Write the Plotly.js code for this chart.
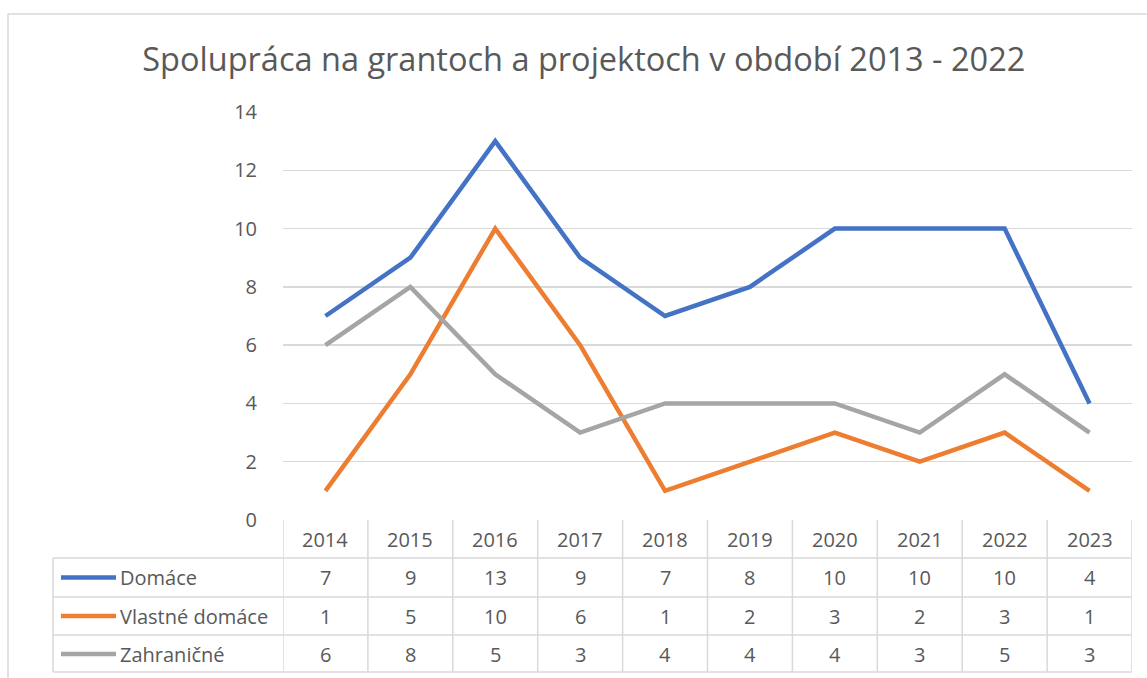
<!DOCTYPE html>
<html>
<head>
<meta charset="utf-8">
<script src="https://cdn.plot.ly/plotly-3.0.1.min.js"></script>
<style>html,body{margin:0;padding:0;background:#fff;}#chart{width:1147px;height:678px;}</style>
</head>
<body>
<div id="chart"></div>
<script>
const years = ['2014','2015','2016','2017','2018','2019','2020','2021','2022','2023'];
const seriesNames = ['Domáce','Vlastné domáce','Zahraničné'];
const domace = [7,9,13,9,7,8,10,10,10,4];
const vlastneDomace = [1,5,10,6,1,2,3,2,3,1];
const zahranicne = [6,8,5,3,4,4,4,3,5,3];
const colors = ['#4472C4','#ED7D31','#A5A5A5'];
const titleText = 'Spolupráca na grantoch a projektoch v období 2013 - 2022';

const W = 1147, H = 678;
const L = 283, R = 1132, T = 112, B = 520;
const px2x = p => (p - L) / (R - L);
const py2y = p => (B - p) / (B - T);
const gridC = '#D9D9D9';
const textC = '#595959';
const font = 'Open Sans, sans-serif';

const allSeries = [domace, vlastneDomace, zahranicne];
const traces = allSeries.map((vals, i) => ({
  type: 'scatter', mode: 'lines', x: years, y: vals, name: seriesNames[i],
  line: {color: colors[i], width: 4.5}, hoverinfo: 'x+y+name'
}));

const shapes = [];
const annotations = [];
// chart border
shapes.push({type:'line', xref:'paper', yref:'paper', x0:px2x(8), x1:px2x(1160), y0:py2y(14), y1:py2y(14), line:{color:gridC, width:1.5}});
shapes.push({type:'line', xref:'paper', yref:'paper', x0:px2x(8), x1:px2x(8), y0:py2y(14), y1:py2y(690), line:{color:gridC, width:1.5}});

// table rows
const rowLines = [558, 597, 635, 672];
rowLines.forEach(p => shapes.push({type:'line', xref:'paper', yref:'paper', x0:px2x(53), x1:1, y0:py2y(p), y1:py2y(p), line:{color:gridC, width:1.5}}));
shapes.push({type:'line', xref:'paper', yref:'paper', x0:px2x(53), x1:px2x(53), y0:py2y(558), y1:py2y(672), line:{color:gridC, width:1.5}});
for (let j = 0; j <= years.length; j++) {
  shapes.push({type:'line', xref:'x', yref:'paper', x0:j-0.5, x1:j-0.5, y0:0, y1:py2y(672), line:{color:gridC, width:1.5}});
}
// column centre in paper coords, computed from the category axis range
const colX = j => (j + 0.5) / years.length;
const headerY = py2y(539.5);
const rowY = [py2y(577.5), py2y(616), py2y(654)];
years.forEach((y, j) => annotations.push({xref:'paper', yref:'paper', x:colX(j), y:headerY, text:y, showarrow:false, xanchor:'center', yanchor:'middle', font:{family:font, size:20, color:textC}}));
allSeries.forEach((vals, i) => {
  vals.forEach((v, j) => annotations.push({xref:'paper', yref:'paper', x:colX(j), y:rowY[i], text:String(v), showarrow:false, xanchor:'center', yanchor:'middle', font:{family:font, size:20, color:textC}}));
  shapes.push({type:'line', xref:'paper', yref:'paper', x0:px2x(61), x1:px2x(116), y0:rowY[i], y1:rowY[i], line:{color:colors[i], width:4.5}});
  annotations.push({xref:'paper', yref:'paper', x:px2x(118), y:rowY[i], text:seriesNames[i], showarrow:false, xanchor:'left', yanchor:'middle', font:{family:font, size:20, color:textC}});
});

const layout = {
  width: W, height: H,
  margin: {l: L, r: W - R, t: T, b: H - B, pad: 0},
  paper_bgcolor: '#fff', plot_bgcolor: '#fff',
  showlegend: false,
  title: {text: titleText, font: {family: font, size: 32.5, color: textC}, xref: 'container', x: 0.509, xanchor: 'center', yref: 'container', y: 1 - 60/678, yanchor: 'middle'},
  xaxis: {type: 'category', range: [-0.5, 9.5], showticklabels: false, showgrid: false, zeroline: false, showline: false, ticks: ''},
  yaxis: {range: [0, 14], dtick: 2, tick0: 0, showgrid: true, gridcolor: gridC, gridwidth: 1.5, zeroline: false, showline: false, ticks: '', ticklabelstandoff: 25, tickfont: {family: font, size: 20, color: textC}},
  shapes: shapes, annotations: annotations
};
Plotly.newPlot('chart', traces, layout, {displayModeBar: false, staticPlot: true});
</script>
</body>
</html>
